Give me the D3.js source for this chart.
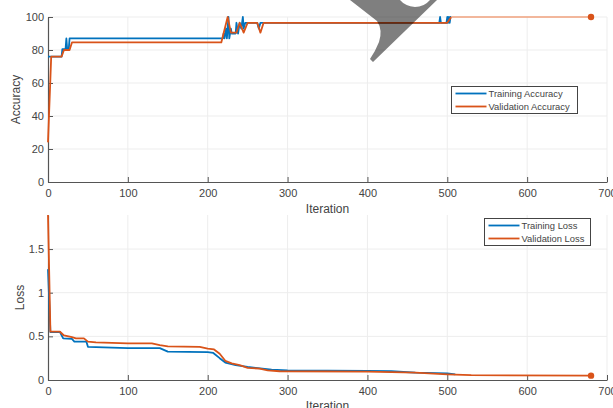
<!DOCTYPE html>
<html>
<head>
<meta charset="utf-8">
<script src="https://cdn.jsdelivr.net/npm/d3@7"></script>
<style>
  html, body { margin: 0; padding: 0; background: #fff; }
  svg { display: block; font-family: "Liberation Sans", Arial, sans-serif; }
</style>
</head>
<body>
<svg id="chart" width="613" height="408"></svg>
<script>
// Training progress: accuracy and loss per iteration
const xTicks = [0, 100, 200, 300, 400, 500, 600, 700];
const accTicks = [0, 20, 40, 60, 80, 100];
const lossTicks = [0, 0.5, 1, 1.5];

const trainAccIter = [0, 17, 18, 22, 23, 24, 26, 27, 216, 219, 220, 221, 223, 224, 226, 227, 229, 230, 235, 236, 238, 240, 242, 244, 245, 247, 262, 264, 266, 490, 491, 492, 499, 500, 501, 502, 503, 504, 505];
const trainAcc     = [76, 76, 80.5, 80.5, 87, 80.5, 80.5, 87, 87, 87, 90, 87, 93, 87, 100, 87, 93, 90, 90, 96.5, 90, 96.5, 93, 100, 93, 96.5, 96.5, 93, 96.5, 96.5, 100, 96.5, 96.5, 100, 96.5, 100, 96.5, 100, 100];

const valAccIter = [0, 4, 17, 20, 27, 30, 217, 225, 229, 236, 240, 245, 250, 262, 266, 270, 500, 505];
const valAcc     = [24, 76, 76, 80, 80, 84.6, 84.6, 100, 90.5, 90.5, 96.5, 90.5, 96.5, 96.5, 90.5, 96.5, 96.5, 100];

const trainLossIter = [0, 3, 15, 19, 30, 33, 48, 50, 100, 140, 150, 200, 207, 215, 222, 235, 250, 260, 280, 300, 400, 430, 460, 500, 510];
const trainLoss     = [1.27, 0.55, 0.55, 0.477, 0.47, 0.44, 0.44, 0.38, 0.365, 0.365, 0.325, 0.32, 0.31, 0.25, 0.20, 0.17, 0.15, 0.14, 0.12, 0.11, 0.105, 0.10, 0.085, 0.075, 0.065];

const valLossIter = [0, 3, 15, 20, 30, 35, 45, 50, 60, 100, 130, 140, 150, 190, 200, 208, 215, 222, 230, 240, 250, 265, 275, 290, 400, 460, 500, 530, 680];
const valLoss     = [1.89, 0.553, 0.553, 0.51, 0.49, 0.477, 0.477, 0.44, 0.43, 0.42, 0.42, 0.40, 0.385, 0.38, 0.36, 0.35, 0.30, 0.22, 0.19, 0.17, 0.14, 0.13, 0.11, 0.10, 0.095, 0.085, 0.065, 0.055, 0.05];

const finalIter = 680;
const finalAcc = 100;
const finalLoss = 0.05;

const BLUE = "#0072BD";
const ORANGE = "#D95319";
const AXIS = "#555";
const TEXT = "#444";
const GRID = "#ededed";

const svg = d3.select("#chart");
const x = d3.scaleLinear().domain([0, 700]).range([48, 607]);
const yAcc = d3.scaleLinear().domain([0, 100]).range([182, 17]);
const yLoss = d3.scaleLinear().domain([0, 1.89]).range([380, 215]);

function panel(y, yTicks, yFmt, yLabel, labelX, xLabelY) {
  const g = svg.append("g");
  // grid
  g.selectAll(".gx").data(xTicks.slice(1)).enter().append("line")
    .attr("x1", d => x(d)).attr("x2", d => x(d))
    .attr("y1", y.range()[0]).attr("y2", y.range()[1])
    .attr("stroke", GRID).attr("stroke-width", 1);
  g.selectAll(".gy").data(yTicks.slice(1)).enter().append("line")
    .attr("x1", x(0)).attr("x2", x(700))
    .attr("y1", d => y(d)).attr("y2", d => y(d))
    .attr("stroke", GRID).attr("stroke-width", 1);

  const xa = g.append("g").attr("transform", `translate(0,${y.range()[0]})`)
    .call(d3.axisBottom(x).tickValues(xTicks).tickSize(-5).tickSizeOuter(0).tickPadding(7));
  const ya = g.append("g").attr("transform", `translate(${x(0)},0)`)
    .call(d3.axisLeft(y).tickValues(yTicks).tickFormat(yFmt).tickSize(-5).tickSizeOuter(0).tickPadding(4));
  [xa, ya].forEach(a => {
    a.select(".domain").attr("stroke", AXIS).attr("stroke-width", 1.2);
    a.selectAll(".tick line").attr("stroke", AXIS);
    a.selectAll(".tick text").attr("fill", TEXT).style("font-size", "11px")
      .style("font-family", "Liberation Sans, Arial, sans-serif");
  });
  g.append("text").attr("x", (x(0) + x(700)) / 2).attr("y", xLabelY)
    .attr("text-anchor", "middle").attr("fill", TEXT).style("font-size", "12px").text("Iteration");
  const cy = (y.range()[0] + y.range()[1]) / 2;
  g.append("text").attr("transform", `translate(${labelX},${cy}) rotate(-90)`)
    .attr("text-anchor", "middle").attr("fill", TEXT).style("font-size", "12px").text(yLabel);
  return g;
}

panel(yAcc, accTicks, d3.format("d"), "Accuracy", 20, 213);
panel(yLoss, lossTicks, d => d === 0 ? "0" : (d % 1 === 0 ? d : d.toFixed(1)), "Loss", 24, 410);

function series(y, iters, vals, color, w) {
  const pts = iters.map((it, i) => [it, vals[i]]);
  svg.append("path").datum(pts)
    .attr("d", d3.line().x(d => x(d[0])).y(d => y(d[1])))
    .attr("fill", "none").attr("stroke", color).attr("stroke-width", w)
    .attr("stroke-linejoin", "round");
}
function finalMark(y, fromIt, fromVal, val) {
  svg.append("path").datum([[fromIt, fromVal], [finalIter, val]])
    .attr("d", d3.line().x(d => x(d[0])).y(d => y(d[1])))
    .attr("fill", "none").attr("stroke", "#f0a27e").attr("stroke-width", 1.3);
  svg.append("circle").attr("cx", x(finalIter)).attr("cy", y(val)).attr("r", 3.2).attr("fill", ORANGE);
}

series(yAcc, trainAccIter, trainAcc, BLUE, 1.8);
series(yAcc, valAccIter, valAcc, ORANGE, 1.8);
finalMark(yAcc, valAccIter[valAccIter.length - 1], valAcc[valAcc.length - 1], finalAcc);

series(yLoss, trainLossIter, trainLoss, BLUE, 1.8);
series(yLoss, valLossIter, valLoss, ORANGE, 1.8);
svg.append("circle").attr("cx", x(finalIter)).attr("cy", yLoss(finalLoss)).attr("r", 3.2).attr("fill", ORANGE);

function legend(x0, y0, w, h, lineLen, labels) {
  const g = svg.append("g").attr("transform", `translate(${x0},${y0})`);
  g.append("rect").attr("width", w).attr("height", h).attr("fill", "#fff")
    .attr("stroke", "#444").attr("stroke-width", 1);
  labels.forEach((l, i) => {
    const yy = 7 + i * 13;
    g.append("line").attr("x1", 4).attr("x2", 4 + lineLen).attr("y1", yy).attr("y2", yy)
      .attr("stroke", l.color).attr("stroke-width", 1.8);
    g.append("text").attr("x", 6 + lineLen).attr("y", yy + 3.3).attr("fill", TEXT)
      .style("font-size", "9.4px").text(l.name);
  });
}
legend(451.5, 86.5, 126, 27, 31, [{name: "Training Accuracy", color: BLUE}, {name: "Validation Accuracy", color: ORANGE}]);
legend(484.5, 218.5, 106, 27, 31, [{name: "Training Loss", color: BLUE}, {name: "Validation Loss", color: ORANGE}]);

// overlay mark
svg.append("path")
  .attr("d", "M350,0 L377,21 Q383,30 379,42 Q375,52 370,59 L373,62 L437,0 L430,0 Q424,7 415,7 Q405,6 400,0 Z")
  .attr("fill", "#000").attr("fill-opacity", 0.5);
</script>
</body>
</html>
